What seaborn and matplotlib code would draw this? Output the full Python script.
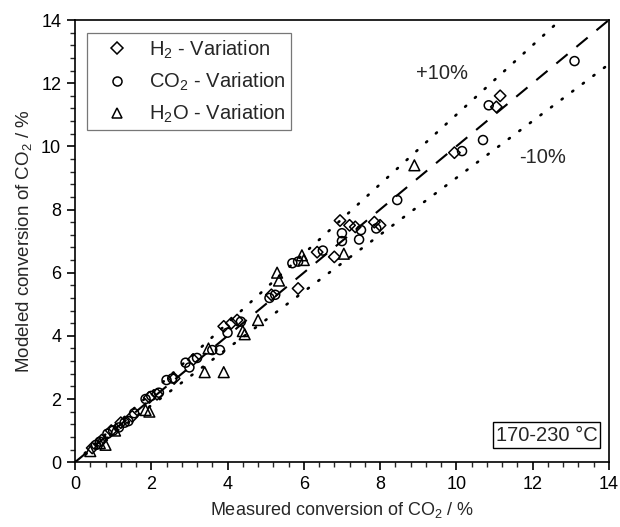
import numpy as np
import pandas as pd
import matplotlib
matplotlib.use("Agg")
import matplotlib.pyplot as plt
import seaborn as sns
from matplotlib.ticker import MultipleLocator
from matplotlib.lines import Line2D

# ---- data ----
h2_meas = [0.45, 0.7, 0.95, 1.2, 1.5, 1.95, 2.15, 2.6, 3.1, 3.9, 4.1, 4.25, 5.15, 5.85,
           6.35, 6.8, 6.95, 7.2, 7.35, 7.85, 8.0, 9.95, 11.05, 11.15]
h2_model = [0.45, 0.7, 1.0, 1.25, 1.45, 2.05, 2.15, 2.65, 3.25, 4.3, 4.4, 4.5, 5.3, 5.5,
            6.65, 6.5, 7.65, 7.5, 7.45, 7.6, 7.5, 9.8, 11.25, 11.6]

co2_meas = [0.55, 0.65, 0.85, 1.0, 1.15, 1.3, 1.4, 1.55, 1.85, 2.0, 2.2, 2.4, 2.55, 2.9,
            3.0, 3.2, 3.6, 3.8, 4.0, 4.35, 5.1, 5.25, 5.7, 5.85, 6.5, 7.0, 7.0, 7.45,
            7.5, 7.9, 8.45, 10.15, 10.7, 10.85, 13.1]
co2_model = [0.55, 0.65, 0.9, 1.0, 1.1, 1.25, 1.3, 1.55, 2.0, 2.1, 2.2, 2.6, 2.65, 3.15,
             3.0, 3.3, 3.55, 3.55, 4.1, 4.45, 5.2, 5.3, 6.3, 6.35, 6.7, 7.0, 7.25, 7.05,
             7.35, 7.4, 8.3, 9.85, 10.2, 11.3, 12.7]

h2o_meas = [0.4, 0.65, 0.8, 1.05, 1.85, 1.95, 3.4, 3.9, 3.5, 4.4, 4.45, 4.8, 5.3, 5.35,
            5.95, 6.0, 7.05, 8.9]
h2o_model = [0.35, 0.6, 0.55, 1.0, 1.65, 1.6, 2.85, 2.85, 3.6, 4.15, 4.05, 4.5, 6.0, 5.75,
             6.55, 6.4, 6.6, 9.4]

series_labels = [r"H$_2$ - Variation", r"CO$_2$ - Variation", r"H$_2$O - Variation"]
band_labels = ["+10%", "-10%"]
band_factors = [1.1, 0.9]
temp_label = "170-230 °C"
x_label = r"Measured conversion of CO$_2$ / %"
y_label = r"Modeled conversion of CO$_2$ / %"
ref_line = [0, 14]

# ---- style ----
sns.set_style("ticks")
plt.rcParams["font.family"] = ["Liberation Sans", "DejaVu Sans"]
plt.rcParams["mathtext.fontset"] = "custom"
plt.rcParams["mathtext.rm"] = "Liberation Sans"
plt.rcParams["mathtext.it"] = "Liberation Sans:italic"
plt.rcParams["mathtext.bf"] = "Liberation Sans:bold"

fig = plt.figure(figsize=(6.2, 5.27), dpi=100)
ax = fig.add_axes([0.121, 0.123, 0.861, 0.839])

frames = []
for lab, xm, ym in zip(series_labels, [h2_meas, co2_meas, h2o_meas],
                       [h2_model, co2_model, h2o_model]):
    frames.append(pd.DataFrame({"measured": xm, "modeled": ym, "series": lab}))
df = pd.concat(frames, ignore_index=True)

markers = {series_labels[0]: "D", series_labels[1]: "o", series_labels[2]: "^"}
sizes = {series_labels[0]: 34, series_labels[1]: 42, series_labels[2]: 60}

# reference lines
xs = np.array(ref_line, dtype=float)
ax.plot(xs, xs, color="black", lw=1.5, ls=(0, (7, 5.5)), zorder=1)
for f in band_factors:
    ax.plot(xs, xs * f, color="black", lw=1.9, ls=(0, (0.5, 4.5)),
            dash_capstyle="round", zorder=1)

for lab in series_labels:
    sub = df[df["series"] == lab]
    sns.scatterplot(data=sub, x="measured", y="modeled", marker=markers[lab],
                    s=sizes[lab], facecolor="none", edgecolor="black",
                    linewidth=1.1, ax=ax, zorder=3, legend=False)

ax.set_xlim(0, 14)
ax.set_ylim(0, 14)
ax.xaxis.set_major_locator(MultipleLocator(2))
ax.yaxis.set_major_locator(MultipleLocator(2))
ax.xaxis.set_minor_locator(MultipleLocator(0.4))
ax.yaxis.set_minor_locator(MultipleLocator(0.4))
ax.tick_params(which="major", direction="out", length=6, width=1.2,
               labelsize=13, colors="black", pad=4)
ax.tick_params(which="minor", direction="out", length=3.5, width=1.0)
for sp in ax.spines.values():
    sp.set_linewidth(1.2)
    sp.set_color("black")

ax.set_xlabel(x_label, fontsize=13, labelpad=5)
ax.set_ylabel(y_label, fontsize=13.5, labelpad=5)

handles = [Line2D([], [], ls="none", marker=markers[l], markersize=ms,
                  markerfacecolor="none", markeredgecolor="black", markeredgewidth=1.1)
           for l, ms in zip(series_labels, [6, 6.5, 7.5])]
leg = ax.legend(handles, series_labels, loc="upper left", fontsize=14.5,
                frameon=True, fancybox=False, edgecolor="#555555",
                borderpad=0.25, labelspacing=0.5, handletextpad=0.35,
                handlelength=2.5, borderaxespad=0,
                bbox_to_anchor=(0.022, 0.97))
leg.get_frame().set_linewidth(0.9)

ax.text(9.62, 12.32, band_labels[0], fontsize=14.5, ha="center", va="center")
ax.text(12.27, 9.66, band_labels[1], fontsize=14.5, ha="center", va="center")
ax.text(13.7, 0.86, temp_label, fontsize=14.5, ha="right", va="center",
        bbox=dict(boxstyle="square,pad=0.15", facecolor="white", edgecolor="black", lw=1.0))

fig.savefig("out.png", dpi=100)
